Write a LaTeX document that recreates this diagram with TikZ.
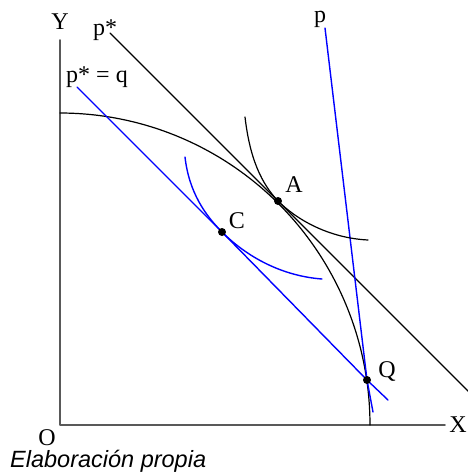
\documentclass[tikz,border=0pt]{standalone}
\usepackage{fontspec}
\setmainfont{Liberation Serif}
\newfontfamily\capfont{Liberation Sans}
\begin{document}
\begin{tikzpicture}[line join=round, line cap=round, x=1pt, y=-1pt,
    lbl/.style={font=\fontsize{24}{24}\selectfont, anchor=base, inner sep=0pt},
    curve/.style={line width=1.2pt},
    bluecurve/.style={line width=1.4pt, blue},
    dot/.style={circle, fill=black, inner sep=0pt, minimum size=8pt}]
    \useasboundingbox (0,0) rectangle (468,472);
    % points
    \coordinate (O) at (60,425);
    \coordinate (A) at (278,201);
    \coordinate (C) at (222,232);
    \coordinate (Q) at (367,380);
    % axes
    \draw[black!65, line width=1.6pt] (60,40) -- (O) -- (445,425);
    \node[lbl] (ylab) at (60,29) {Y};
    \node[lbl] (xlab) at (458,432) {X};
    \node[lbl] (olab) at (47,445) {O};
    % frontier
    \draw[curve, domain=0:90, samples=80, smooth, variable=\t]
        plot ({60+310*cos(\t)},{425-312*sin(\t)});
    % price lines
    \draw[curve] (110,33) -- (A) -- (475,398);
    \draw[bluecurve] (77,87) -- (C) -- (Q) -- (388,400);
    \draw[bluecurve] (325,28) -- (Q) -- (373,412);
    \node[lbl] (pstar) at (105,35) {p*};
    \node[lbl] (pq) at (97,82) {p* = q};
    \node[lbl] (plab) at (320,22) {p};
    % indifference curves
    \draw[curve] (245,117) .. controls (250,160) and (262,184) .. (A)
        .. controls (296,219) and (328,238) .. (368,240);
    \draw[bluecurve] (185,157) .. controls (189,192) and (205,215) .. (C)
        .. controls (247,257) and (282,276) .. (322,279);
    % equilibria
    \node[dot] (adot) at (A) {};
    \node[dot] (cdot) at (C) {};
    \node[dot] (qdot) at (Q) {};
    \node[lbl] (alab) at (294,192) {A};
    \node[lbl] (clab) at (237,228) {C};
    \node[lbl] (qlab) at (387,377) {Q};
    % source
    \node[anchor=base west, inner sep=0pt, font=\capfont\itshape\fontsize{23.5}{24}\selectfont]
        (src) at (10,467) {Elaboración propia};
\end{tikzpicture}
\end{document}
